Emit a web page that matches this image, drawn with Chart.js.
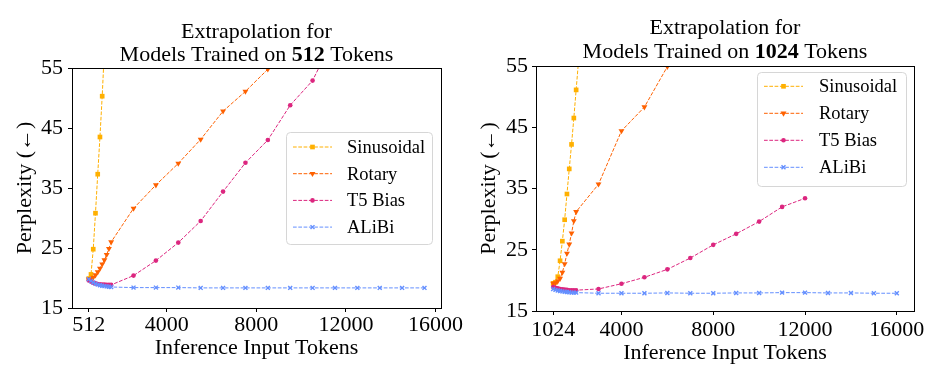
<!DOCTYPE html>
<html>
<head>
<meta charset="utf-8">
<script src="https://cdn.jsdelivr.net/npm/chart.js@4.4.0/dist/chart.umd.min.js"></script>
<style>
  html, body { margin: 0; padding: 0; background: #fff; }
  .wrap { display: flex; width: 926px; height: 378px; }
  .box { position: relative; width: 463px; height: 378px; }
</style>
</head>
<body>
<div class="wrap">
  <div class="box"><canvas id="chart512"></canvas></div>
  <div class="box"><canvas id="chart1024"></canvas></div>
</div>
<script>
const seriesNames = ['Sinusoidal', 'Rotary', 'T5 Bias', 'ALiBi'];

// models trained on 512 tokens
const tokens512 = [512, 612, 712, 812, 912, 1012, 1112, 1212, 1312, 1412, 1512,
  2512, 3512, 4512, 5512, 6512, 7512, 8512, 9512, 10512, 11512, 12512, 13512, 14512, 15512];
const sinusoidal512 = [19.9, 20.6, 24.8, 30.8, 37.3, 43.5, 50.3, 58.2];
const rotary512 = [19.8, 19.9, 20.1, 20.5, 21.0, 21.6, 22.3, 23.0, 23.9, 24.9, 26.0,
  31.6, 35.5, 39.1, 43.1, 47.8, 51.1, 54.8, 58.5];
const t5bias512 = [19.6, 19.4, 19.2, 19.1, 19.0, 18.95, 18.9, 18.9, 18.85, 18.85, 18.85,
  20.4, 22.9, 25.9, 29.5, 34.4, 39.2, 43.0, 48.8, 52.9, 60.5];
const alibi512 = [19.8, 19.5, 19.25, 19.05, 18.9, 18.8, 18.7, 18.65, 18.6, 18.55, 18.5,
  18.4, 18.4, 18.4, 18.35, 18.35, 18.35, 18.35, 18.35, 18.35, 18.35, 18.35, 18.35, 18.35, 18.35];
const xTicks512 = [512, 4000, 8000, 12000, 16000];

// models trained on 1024 tokens
const tokens1024 = [1024, 1124, 1224, 1324, 1424, 1524, 1624, 1724, 1824, 1924, 2024,
  3000, 4000, 5000, 6000, 7000, 8000, 9000, 10000, 11000, 12000, 13000, 14000, 15000, 16000];
const sinusoidal1024 = [19.5, 19.7, 20.6, 23.2, 26.4, 29.9, 34.1, 38.2, 42.2, 46.5, 51.1, 95];
const rotary1024 = [19.5, 19.6, 19.9, 20.3, 21.3, 22.7, 24.4, 25.9, 27.7, 29.7, 31.2,
  35.7, 44.4, 48.3, 54.9, 62];
const t5bias1024 = [18.9, 18.8, 18.7, 18.6, 18.55, 18.5, 18.45, 18.4, 18.4, 18.4, 18.4,
  18.6, 19.45, 20.5, 21.8, 23.65, 25.8, 27.6, 29.6, 32.0, 33.4];
const alibi1024 = [18.6, 18.45, 18.35, 18.25, 18.2, 18.15, 18.1, 18.05, 18.0, 18.0, 18.0,
  17.9, 17.9, 17.9, 17.95, 17.9, 17.9, 17.95, 17.95, 18.0, 18.0, 17.95, 17.95, 17.9, 17.9];
const xTicks1024 = [1024, 4000, 8000, 12000, 16000];

const yTicks = [15, 25, 35, 45, 55];

const colors = ['#FFB000', '#FE6100', '#DC267F', '#648FFF'];
const markers = [
  { style: 'rect', radius: 3.3, rotation: 0, border: 0 },
  { style: 'triangle', radius: 3.4, rotation: 180, border: 0 },
  { style: 'circle', radius: 2.3, rotation: 0, border: 0 },
  { style: 'crossRot', radius: 2.8, rotation: 0, border: 1.4 }
];
const serif = '"Liberation Serif", "Times New Roman", serif';

function pairs(xs, ys) {
  return ys.map((y, i) => ({ x: xs[i], y: y }));
}

function makeDatasets(xs, seriesList) {
  return seriesList.map((ys, i) => ({
    label: seriesNames[i],
    data: pairs(xs, ys),
    borderColor: colors[i],
    backgroundColor: colors[i],
    borderWidth: 1,
    borderDash: [3.7, 1.6],
    tension: 0,
    pointStyle: markers[i].style,
    pointRadius: markers[i].radius,
    pointRotation: markers[i].rotation,
    pointBorderWidth: markers[i].border,
    pointBackgroundColor: colors[i],
    pointBorderColor: colors[i],
    order: 3 - i
  }));
}

// frame round the plot area, like matplotlib spines
const framePlugin = {
  id: 'frame',
  afterDatasetsDraw(chart) {
    const { ctx, chartArea: a } = chart;
    ctx.save();
    ctx.strokeStyle = '#000';
    ctx.lineWidth = 1;
    ctx.strokeRect(Math.round(a.left) + 0.5, Math.round(a.top) + 0.5,
      Math.round(a.right - a.left), Math.round(a.bottom - a.top));
    ctx.restore();
  }
};

// two line title with a bold number in the second line
const titlePlugin = {
  id: 'twoLineTitle',
  afterDraw(chart, args, opts) {
    const ctx = chart.ctx;
    const cx = (chart.chartArea.left + chart.chartArea.right) / 2;
    ctx.save();
    ctx.fillStyle = '#000';
    ctx.textBaseline = 'middle';
    ctx.textAlign = 'left';
    opts.lines.forEach((parts, li) => {
      const fonts = parts.map(p => (p.bold ? 'bold ' : '') + opts.size + 'px ' + serif);
      const widths = parts.map((p, k) => { ctx.font = fonts[k]; return ctx.measureText(p.text).width; });
      let x = cx - widths.reduce((s, w) => s + w, 0) / 2;
      parts.forEach((p, k) => {
        ctx.font = fonts[k];
        ctx.fillText(p.text, x, opts.y[li]);
        x += widths[k];
      });
    });
    ctx.restore();
  }
};

// legend box inside the axes, matplotlib style
const boxLegendPlugin = {
  id: 'boxLegend',
  afterDraw(chart, args, o) {
    const ctx = chart.ctx;
    ctx.save();
    ctx.beginPath();
    ctx.roundRect(o.x + 0.5, o.y + 0.5, o.w, o.h, 4);
    ctx.fillStyle = 'rgba(255,255,255,0.8)';
    ctx.fill();
    ctx.strokeStyle = '#d6d6d6';
    ctx.lineWidth = 1;
    ctx.stroke();
    chart.data.datasets.forEach((ds, i) => {
      const y = o.y + o.firstRow + i * o.rowStep;
      const x0 = o.x + o.lineStart, x1 = o.x + o.lineEnd;
      ctx.setLineDash(ds.borderDash);
      ctx.strokeStyle = ds.borderColor;
      ctx.lineWidth = ds.borderWidth;
      ctx.beginPath();
      ctx.moveTo(x0, y);
      ctx.lineTo(x1, y);
      ctx.stroke();
      ctx.setLineDash([]);
      ctx.fillStyle = ds.pointBackgroundColor;
      ctx.strokeStyle = ds.pointBorderColor;
      ctx.lineWidth = ds.pointBorderWidth;
      Chart.helpers.drawPoint(ctx, {
        pointStyle: ds.pointStyle, radius: ds.pointRadius,
        rotation: ds.pointRotation, borderWidth: ds.pointBorderWidth
      }, (x0 + x1) / 2, y);
      ctx.fillStyle = '#000';
      ctx.font = o.fontSize + 'px ' + serif;
      ctx.textBaseline = 'middle';
      ctx.textAlign = 'left';
      ctx.fillText(ds.label, o.x + o.textStart, y + 1);
    });
    ctx.restore();
  }
};

function buildChart(id, cfg) {
  const axisFont = { family: serif, size: 22 };
  return new Chart(document.getElementById(id).getContext('2d'), {
    type: 'line',
    data: { datasets: makeDatasets(cfg.xs, cfg.series) },
    options: {
      responsive: true,
      maintainAspectRatio: false,
      animation: false,
      events: [],
      layout: { padding: cfg.padding },
      plugins: {
        legend: { display: false },
        tooltip: { enabled: false },
        twoLineTitle: { lines: cfg.title, y: cfg.titleY, size: 22 },
        boxLegend: cfg.legend
      },
      scales: {
        x: {
          type: 'linear',
          min: cfg.xMin,
          max: cfg.xMax,
          afterBuildTicks: axis => { axis.ticks = cfg.xTicks.map(v => ({ value: v })); },
          afterFit: s => { s.height = cfg.xAxisHeight; s.paddingLeft = 0; s.paddingRight = 0; },
          ticks: { color: '#000', font: { family: serif, size: 22 }, padding: cfg.xTickPad,
            maxRotation: 0, autoSkip: false, callback: v => String(v) },
          grid: { display: true, drawOnChartArea: false, drawTicks: true, tickLength: 4, color: '#000' },
          border: { display: true, color: '#000' },
          title: { display: true, text: 'Inference Input Tokens', color: '#000', font: axisFont,
            padding: { top: 0, bottom: cfg.xTitlePad } }
        },
        y: {
          min: 15,
          max: 55,
          afterBuildTicks: axis => { axis.ticks = yTicks.map(v => ({ value: v })); },
          afterFit: s => { s.width = cfg.yAxisWidth; s.paddingTop = 0; s.paddingBottom = 0; },
          ticks: { color: '#000', font: { family: serif, size: 22 }, padding: cfg.yTickPad },
          grid: { display: true, drawOnChartArea: false, drawTicks: true, tickLength: 4, color: '#000' },
          border: { display: true, color: '#000' },
          title: { display: true, text: 'Perplexity (\u2190)', color: '#000', font: axisFont,
            padding: { top: cfg.yTitlePad, bottom: 0 } }
        }
      }
    },
    plugins: [framePlugin, titlePlugin, boxLegendPlugin]
  });
}

buildChart('chart512', {
  xs: tokens512,
  series: [sinusoidal512, rotary512, t5bias512, alibi512],
  xMin: -237, xMax: 16249, xTicks: xTicks512,
  padding: { top: 68, left: 0, right: 22, bottom: 0 },
  xAxisHeight: 70, yAxisWidth: 72,
  xTickPad: 0, yTickPad: 5, xTitlePad: 17, yTitlePad: 12.5,
  title: [[{ text: 'Extrapolation for' }],
          [{ text: 'Models Trained on ' }, { text: '512', bold: true }, { text: ' Tokens' }]],
  titleY: [32, 55],
  legend: { x: 286, y: 132, w: 146, h: 112, firstRow: 15, rowStep: 26.7,
            lineStart: 7, lineEnd: 46, textStart: 61, fontSize: 18.5 }
});

buildChart('chart1024', {
  xs: tokens1024,
  series: [sinusoidal1024, rotary1024, t5bias1024, alibi1024],
  xMin: 275, xMax: 16749, xTicks: xTicks1024,
  padding: { top: 66, left: 0, right: 12, bottom: 0 },
  xAxisHeight: 67, yAxisWidth: 73,
  xTickPad: 2, yTickPad: 4, xTitlePad: 12, yTitlePad: 13,
  title: [[{ text: 'Extrapolation for' }],
          [{ text: 'Models Trained on ' }, { text: '1024', bold: true }, { text: ' Tokens' }]],
  titleY: [28, 52],
  legend: { x: 294, y: 72, w: 149, h: 114, firstRow: 14.3, rowStep: 27,
            lineStart: 7, lineEnd: 46, textStart: 62, fontSize: 18.5 }
});
</script>
</body>
</html>
